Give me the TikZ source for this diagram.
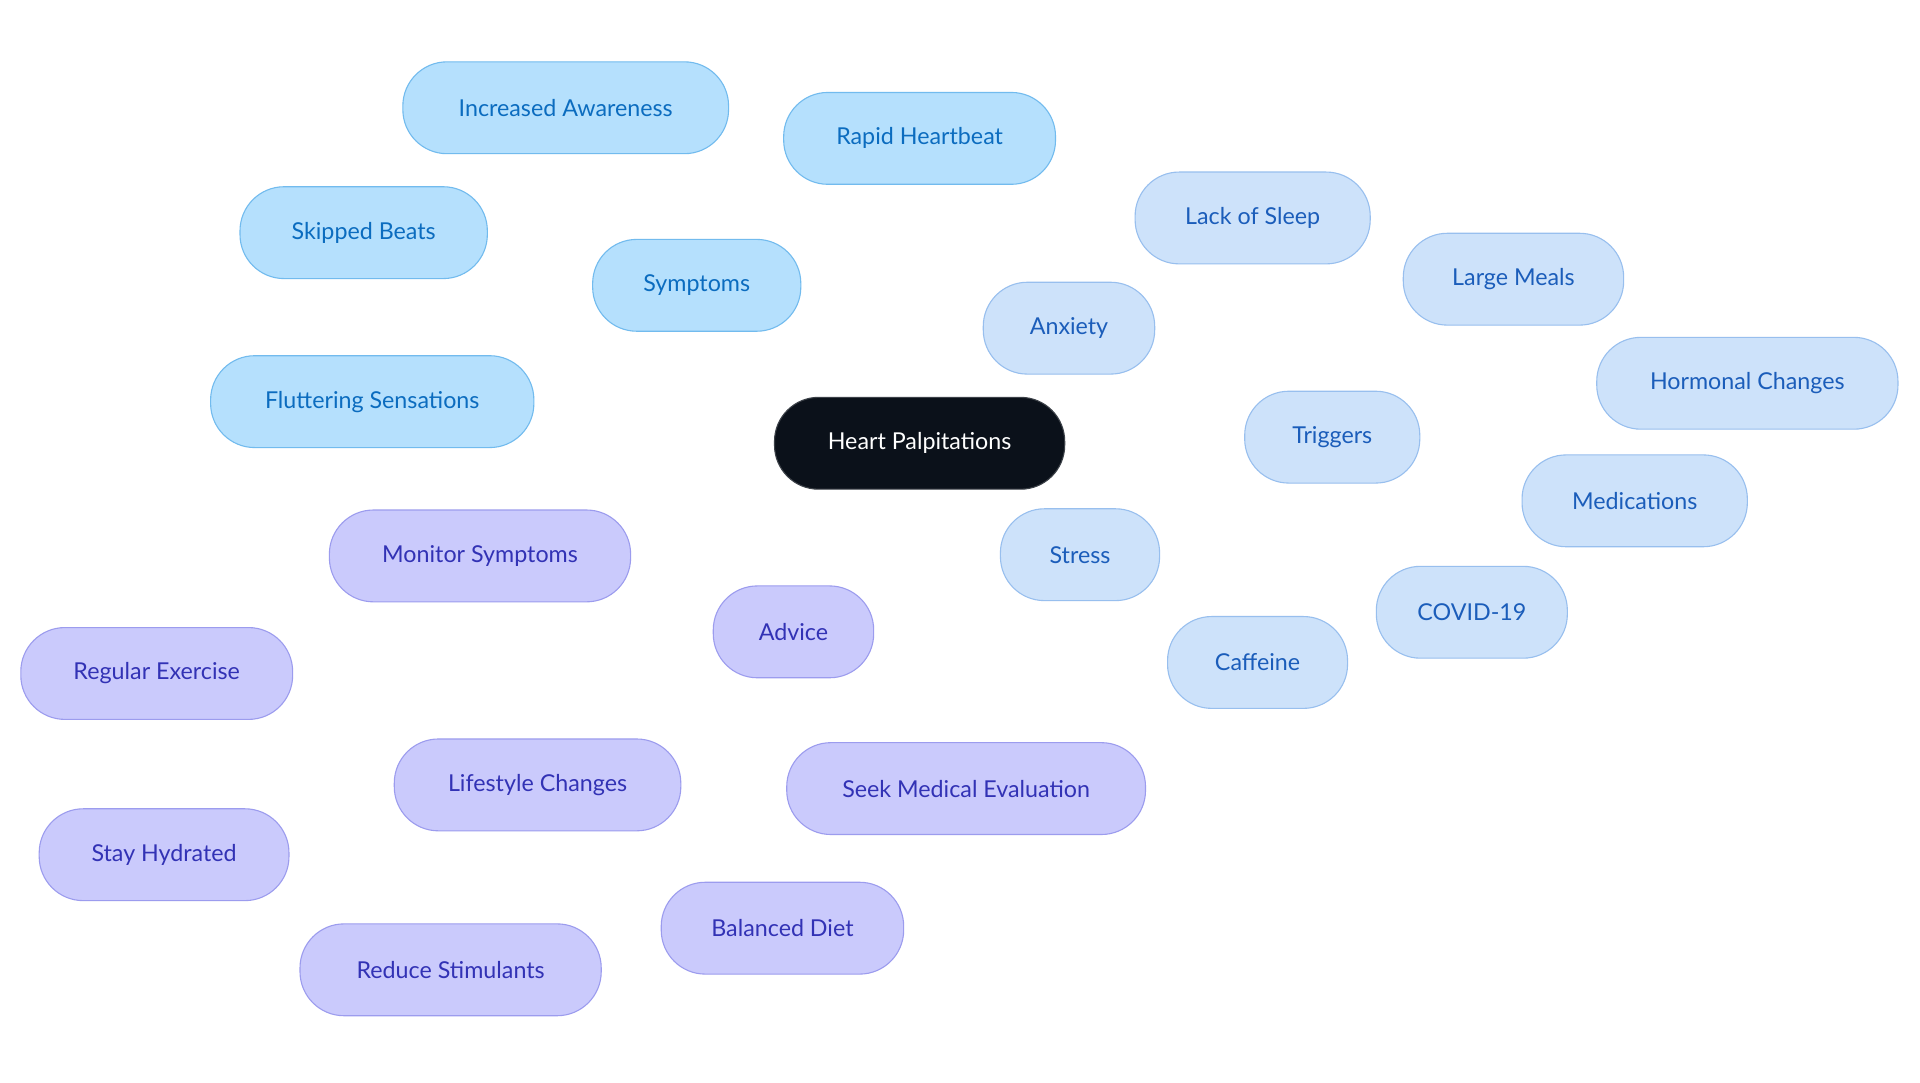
\documentclass[tikz,border=0pt]{standalone}
\usepackage{fontspec}
\setmainfont{Lato}
\usetikzlibrary{backgrounds}
\definecolor{symfill}{HTML}{B5E0FD}
\definecolor{symline}{HTML}{72BBEE}
\definecolor{symtext}{HTML}{0B6CBF}
\definecolor{trgfill}{HTML}{CDE2FA}
\definecolor{trgline}{HTML}{98BFEE}
\definecolor{trgtext}{HTML}{1B5DBA}
\definecolor{advfill}{HTML}{CACAFC}
\definecolor{advline}{HTML}{9C9CEE}
\definecolor{advtext}{HTML}{3232B5}
\definecolor{rootfill}{HTML}{0B111A}
\tikzset{
  box/.style={rounded corners=36pt, minimum height=75pt, line width=0.9pt,
    font=\fontsize{19}{22}\selectfont, inner sep=0pt},
  root/.style={box, fill=rootfill, draw=rootfill!80, text=white},
  sym/.style={box, fill=symfill, draw=symline, text=symtext},
  trg/.style={box, fill=trgfill, draw=trgline, text=trgtext},
  adv/.style={box, fill=advfill, draw=advline, text=advtext},
  symlink/.style={draw=symline, line width=2pt},
  trglink/.style={draw=trgline, line width=2pt},
  advlink/.style={draw=advline, line width=2pt},
}
\begin{document}
\begin{tikzpicture}[x=1pt, y=-1pt]
	\useasboundingbox[fill=white] (0,0) rectangle (1568,884);
	\node[root, minimum width=237pt] (HP)  at (751,362) {Heart Palpitations};

	\node[sym, minimum width=170pt] (SY)  at (569,233) {Symptoms};
	\node[sym, minimum width=266pt] (IA)  at (462,88)  {Increased Awareness};
	\node[sym, minimum width=222pt] (RH)  at (751,113) {Rapid Heartbeat};
	\node[sym, minimum width=202pt] (SB)  at (297,190) {Skipped Beats};
	\node[sym, minimum width=264pt] (FS)  at (304,328) {Fluttering Sensations};

	\node[trg, minimum width=143pt] (TR)  at (1088,357) {Triggers};
	\node[trg, minimum width=192pt] (LS)  at (1023,178) {Lack of Sleep};
	\node[trg, minimum width=180pt] (LM)  at (1236,228) {Large Meals};
	\node[trg, minimum width=140pt] (AN)  at (873,268)  {Anxiety};
	\node[trg, minimum width=246pt] (HC)  at (1427,313) {Hormonal Changes};
	\node[trg, minimum width=184pt] (ME)  at (1335,409) {Medications};
	\node[trg, minimum width=156pt] (CO)  at (1202,500) {COVID-19};
	\node[trg, minimum width=147pt] (CA)  at (1027,541) {Caffeine};
	\node[trg, minimum width=130pt] (ST)  at (882,453)  {Stress};

	\node[adv, minimum width=131pt] (AD)  at (648,516) {Advice};
	\node[adv, minimum width=246pt] (MS)  at (392,454) {Monitor Symptoms};
	\node[adv, minimum width=222pt] (RE)  at (128,550) {Regular Exercise};
	\node[adv, minimum width=234pt] (LC)  at (439,641) {Lifestyle Changes};
	\node[adv, minimum width=204pt] (SH)  at (134,698) {Stay Hydrated};
	\node[adv, minimum width=246pt] (RS)  at (368,792) {Reduce Stimulants};
	\node[adv, minimum width=198pt] (BD)  at (639,758) {Balanced Diet};
	\node[adv, minimum width=293pt] (SM)  at (789,644) {Seek Medical Evaluation};

	\begin{scope}[on background layer]
	\path[symlink] (HP) -- (SY)  (SY) -- (IA)  (SY) -- (RH)  (SY) -- (SB)  (SY) -- (FS);
	\path[trglink] (HP) -- (TR)  (TR) -- (LS)  (TR) -- (LM)  (TR) -- (AN)  (TR) -- (HC)
		(TR) -- (ME)  (TR) -- (CO)  (TR) -- (CA)  (TR) -- (ST);
	\path[advlink] (HP) -- (AD)  (AD) -- (MS)  (AD) -- (LC)  (AD) -- (SM)
		(LC) -- (RE)  (LC) -- (SH)  (LC) -- (RS)  (LC) -- (BD);
	\end{scope}
\end{tikzpicture}
\end{document}
